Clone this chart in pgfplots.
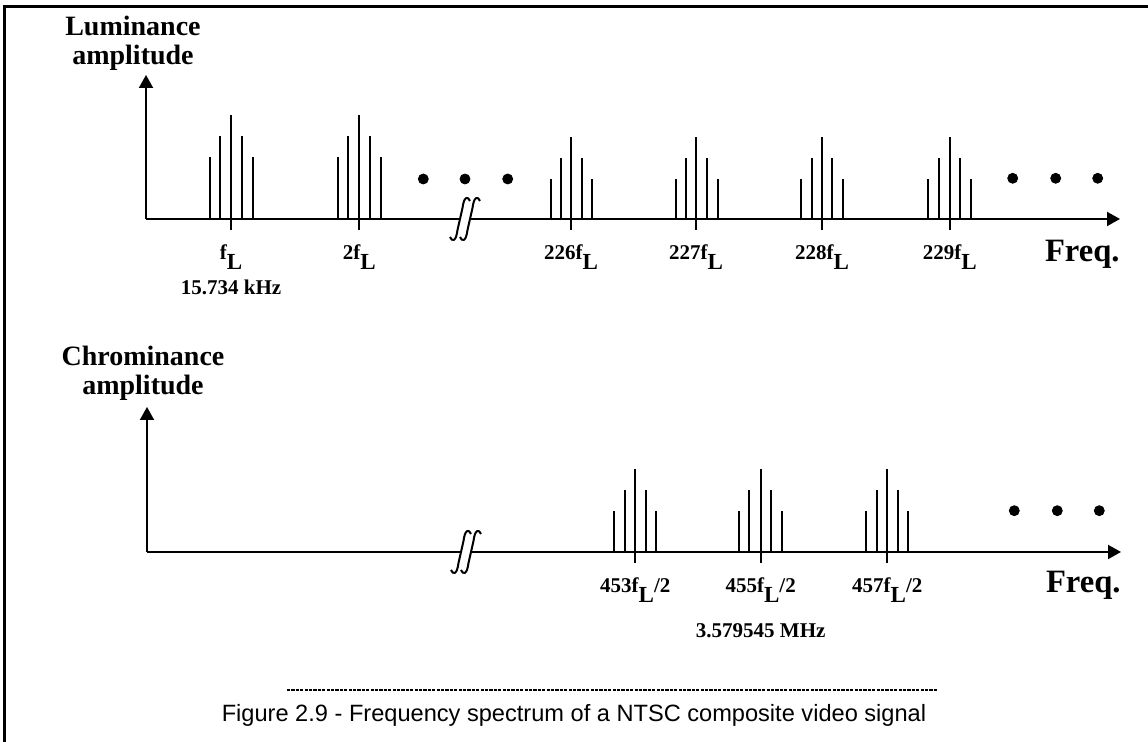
\documentclass[border=0pt]{standalone}
\usepackage{fontspec}
\setmainfont{Liberation Serif}
\newfontfamily\capfont{Liberation Sans}
\usepackage{pgfplots}
\pgfplotsset{compat=1.18}
\usetikzlibrary{arrows.meta}

% subscript L of the f_L labels
\newcommand{\fL}{f\raisebox{-5pt}{\fontsize{11.5}{11.5}\selectfont L}}
% the axis break sign, centred on the axis at x = #1
\newcommand{\brk}[1]{%
  \draw[line width=1pt] (axis cs:#1-10,-18) .. controls (axis cs:#1-8,-23) and (axis cs:#1-4,-23) .. (axis cs:#1-2.5,-11)
      -- (axis cs:#1+2.5,11) .. controls (axis cs:#1+4,23) and (axis cs:#1+8,23) .. (axis cs:#1+10,18);}

\pgfplotsset{spectrum/.style={
    scale only axis, clip=false, enlargelimits=false,
    axis lines=left,
    axis line style={line width=1pt, -{Triangle[length=6.5pt,width=7pt]}},
    ytick=\empty,
    tick align=outside, major tick length=5.5pt,
    every tick/.append style={black, line width=1pt},
    xticklabel style={font=\bfseries\fontsize{10.5}{10.5}\selectfont, inner sep=0pt, anchor=north, yshift=-7pt},
    anchor=south west,
}}

\begin{document}
\begin{tikzpicture}
\useasboundingbox (0,0) rectangle (574pt,371pt);
% frame of the scanned figure
\draw[line width=1.5pt] (2pt,0) -- (2pt,367.5pt) -- (574pt,367.5pt);

% ---- luminance ----
\begin{axis}[spectrum, at={(73pt,261.5pt)}, width=487pt, height=72pt,
    xmin=146, xmax=1120, ymin=0, ymax=144,
    xtick={231,359.3,571,696,822,949.7},
    xticklabels={{\fL},{2\fL},{226\fL},{227\fL},{228\fL},{229\fL}}]
\addplot[ycomb, line width=1pt, mark=none] coordinates {
    (210,62) (220,82.6) (231,104) (241.7,82.6) (252.7,62)
    (338.3,62) (348.3,82.6) (359.3,104) (370,82.6) (380.7,62)
    (550.7,40) (560.7,61) (571,82.3) (581.7,61) (592.3,40)
    (675.7,40) (686,61) (696,82.3) (707.3,61) (717.7,40)
    (801,40) (811.7,61) (822,82.3) (832.3,61) (843.3,40)
    (928.3,40) (939,61) (949.7,82.3) (960,61) (970.7,40)
};
\addplot[only marks, mark=*, mark size=2.5pt] coordinates {
    (423.3,40) (465,40) (507.7,40) (1012.7,40.7) (1055.7,40.7) (1097.7,40.7)
};
% axis break
\fill[white] (axis cs:460,-2) rectangle (axis cs:470,2);
\brk{460}\brk{470}
\node[anchor=south, align=center, inner sep=0pt, xshift=-6.5pt, yshift=2pt,
    font=\bfseries\fontsize{14}{14.5}\selectfont] at (axis cs:146,144) {Luminance\\amplitude};
\node[anchor=base east, inner sep=0pt, yshift=-21.5pt, font=\bfseries\fontsize{16.3}{16}\selectfont]
    at (axis cs:1120,0) {Freq.};
\node[anchor=base, inner sep=0pt, yshift=-38pt, font=\bfseries\fontsize{10.5}{10.5}\selectfont]
    at (axis cs:231,0) {15.734 kHz};
\end{axis}

% ---- chrominance ----
\begin{axis}[spectrum, at={(73.5pt,95pt)}, width=487pt, height=72.5pt,
    xmin=147, xmax=1121, ymin=0, ymax=145,
    xtick={635.3,760.7,887.3},
    xticklabels={{453\fL/2},{455\fL/2},{457\fL/2}}]
\addplot[ycomb, line width=1pt, mark=none] coordinates {
    (614.3,41.3) (625,62.3) (635.3,83.3) (646,62.3) (656.3,41.3)
    (739.3,41.3) (749.3,62.3) (760.7,83.3) (771,62.3) (781.7,41.3)
    (865.7,41.3) (876.7,62.3) (887.3,83.3) (898.3,62.3) (908.3,41.3)
};
\addplot[only marks, mark=*, mark size=2.5pt] coordinates {
    (1014.3,41.3) (1057.3,41.3) (1099.3,41.3)
};
\fill[white] (axis cs:461,-2) rectangle (axis cs:471,2);
\brk{461}\brk{471}
\node[anchor=south, align=center, inner sep=0pt, xshift=-2pt, yshift=3pt,
    font=\bfseries\fontsize{14}{14.5}\selectfont] at (axis cs:147,145) {Chrominance\\amplitude};
\node[anchor=base east, inner sep=0pt, yshift=-20.5pt, font=\bfseries\fontsize{16.3}{16}\selectfont]
    at (axis cs:1121,0) {Freq.};
\node[anchor=base, inner sep=0pt, yshift=-43pt, font=\bfseries\fontsize{10.5}{10.5}\selectfont]
    at (axis cs:760.7,0) {3.579545 MHz};
\end{axis}

% caption
\draw[line width=0.9pt, dash pattern=on 1.6pt off 0.6pt] (143.5pt,26pt) -- (468.5pt,26pt);
\node[anchor=base, inner sep=0pt, font=\capfont\fontsize{11.8}{14}\selectfont] at (287pt,10pt)
    {Figure 2.9 - Frequency spectrum of a NTSC composite video signal};
\end{tikzpicture}
\end{document}
